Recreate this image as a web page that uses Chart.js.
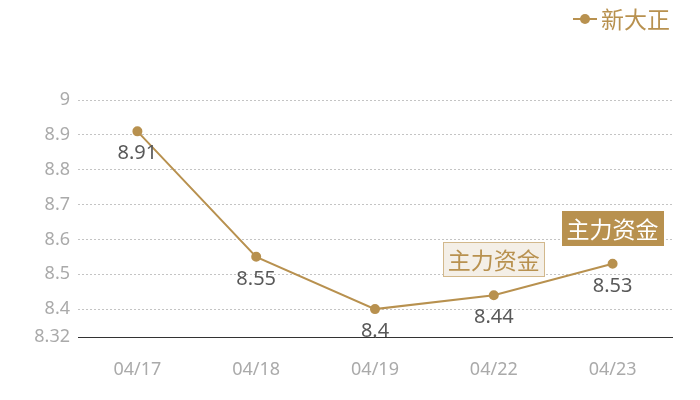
<!DOCTYPE html>
<html>
<head>
<meta charset="utf-8">
<script src="https://cdn.jsdelivr.net/npm/chart.js@4.4.1/dist/chart.umd.min.js"></script>
<style>
  html, body { margin: 0; padding: 0; background: #ffffff; }
  #wrap { width: 700px; height: 400px; }
</style>
</head>
<body>
<div id="wrap"><canvas id="chart"></canvas></div>
<script>
const seriesName = "新大正";
const dates = ["04/17", "04/18", "04/19", "04/22", "04/23"];
const prices = [8.91, 8.55, 8.4, 8.44, 8.53];
const yTicks = [8.32, 8.4, 8.5, 8.6, 8.7, 8.8, 8.9, 9];
const flagIndex = [3, 4];
const flagText = ["主力资金", "主力资金"];
const flagSolid = [false, true];

const gold = "#b8914f";
const fontFamily = "'Noto Sans', 'Noto Sans CJK SC', sans-serif";

// labels under the points, flags above, legend top right
const extras = {
  id: "extras",
  afterDatasetsDraw(chart) {
    const ctx = chart.ctx;
    const meta = chart.getDatasetMeta(0);
    ctx.save();
    ctx.font = "20px " + fontFamily;
    ctx.fillStyle = "#595959";
    ctx.textAlign = "center";
    ctx.textBaseline = "middle";
    meta.data.forEach(function (pt, i) {
      ctx.fillText(String(prices[i]), pt.x, pt.y + 22);
    });

    ctx.font = "23px 'Noto Sans CJK SC', sans-serif";
    flagIndex.forEach(function (idx, k) {
      const pt = meta.data[idx];
      const w = 102, h = 35;
      const x0 = Math.round(pt.x - w / 2), y0 = Math.round(pt.y - 18 - h);
      if (flagSolid[k]) {
        ctx.fillStyle = gold;
        ctx.fillRect(x0, y0, w, h);
        ctx.fillStyle = "#ffffff";
      } else {
        ctx.fillStyle = "#f4efe7";
        ctx.fillRect(x0, y0, w, h);
        ctx.strokeStyle = "#d2b88c";
        ctx.lineWidth = 1;
        ctx.strokeRect(x0 + 0.5, y0 + 0.5, w - 1, h - 1);
        ctx.fillStyle = gold;
      }
      ctx.fillText(flagText[k], pt.x, y0 + h / 2 + 1);
    });

    // legend
    ctx.strokeStyle = gold;
    ctx.lineWidth = 2;
    ctx.beginPath();
    ctx.moveTo(573, 19);
    ctx.lineTo(597, 19);
    ctx.stroke();
    ctx.fillStyle = gold;
    ctx.beginPath();
    ctx.arc(585, 19, 5, 0, Math.PI * 2);
    ctx.fill();
    ctx.font = "23px 'Noto Sans CJK SC', sans-serif";
    ctx.textAlign = "left";
    ctx.fillText(seriesName, 601, 19);
    ctx.restore();
  },
};

new Chart(document.getElementById("chart"), {
  type: "line",
  data: {
    labels: dates,
    datasets: [
      {
        label: seriesName,
        data: prices,
        borderColor: gold,
        backgroundColor: gold,
        borderWidth: 2,
        pointRadius: 4,
        pointHoverRadius: 4,
        tension: 0,
      },
    ],
  },
  options: {
    responsive: true,
    maintainAspectRatio: false,
    animation: false,
    layout: {
      padding: { top: 100, right: 28, bottom: 0, left: 0 },
    },
    plugins: {
      legend: { display: false },
      tooltip: { enabled: false },
    },
    scales: {
      x: {
        offset: true,
        grid: { display: false, drawTicks: false },
        border: { display: true, color: "#333333", width: 1 },
        afterFit: function (scale) {
          scale.height = 63;
        },
        ticks: {
          color: "#aaaaaa",
          padding: 22,
          font: { size: 18, family: fontFamily },
        },
      },
      y: {
        min: 8.32,
        max: 9,
        afterBuildTicks: function (scale) {
          scale.ticks = yTicks.map(function (v) { return { value: v }; });
        },
        afterFit: function (scale) {
          scale.width = 78;
        },
        grid: {
          color: "#c4c4c4",
          drawTicks: false,
        },
        border: { display: false, dash: [2, 2] },
        ticks: {
          color: "#aaaaaa",
          padding: 8,
          font: { size: 18, family: fontFamily },
          callback: function (v) { return String(v); },
        },
      },
    },
  },
  plugins: [extras],
});
</script>
</body>
</html>
